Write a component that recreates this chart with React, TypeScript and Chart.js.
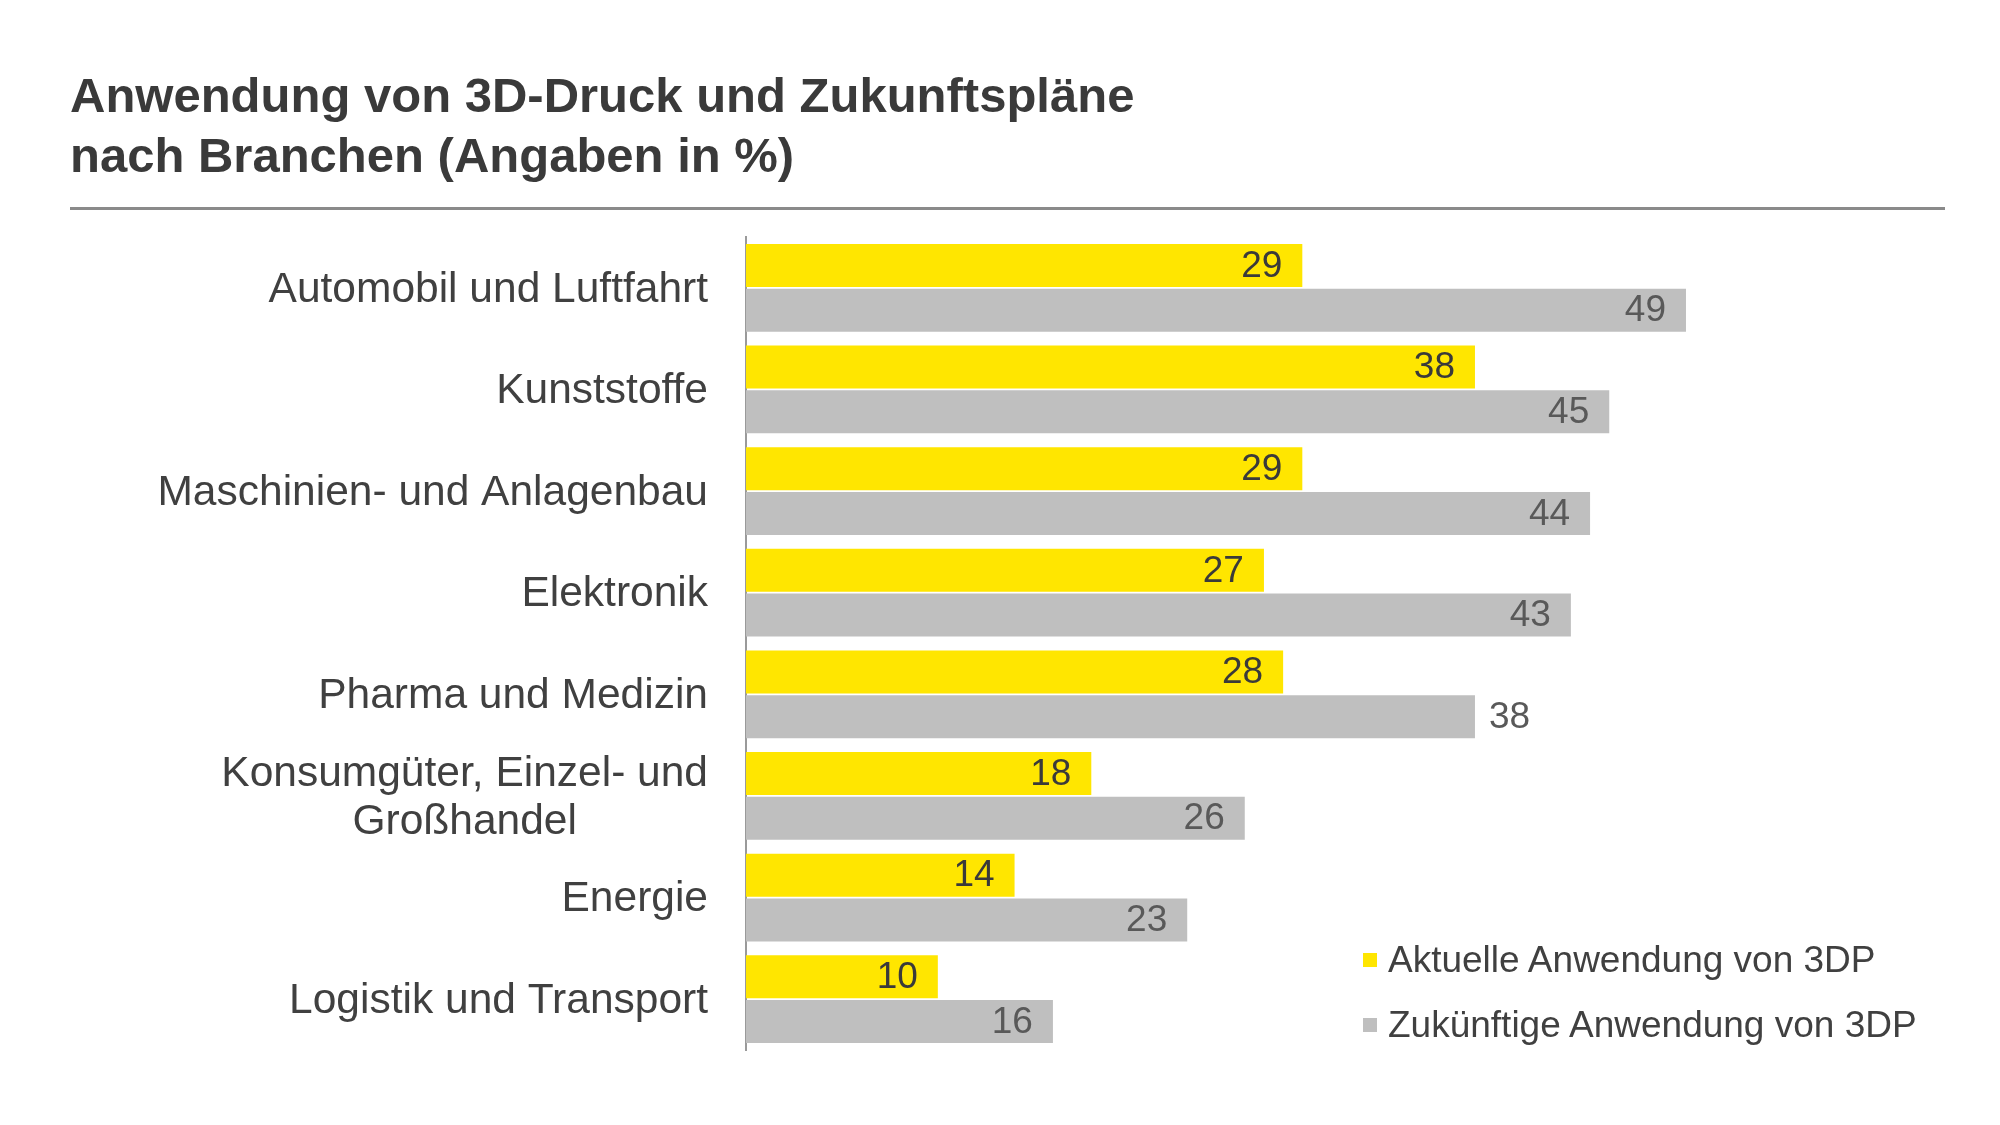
import React, { useEffect, useRef } from "react";
import { Chart, registerables } from "chart.js";

Chart.register(...registerables);

// Branchen (multi-line labels as arrays)
const categories: (string | string[])[] = [
  "Automobil und Luftfahrt",
  "Kunststoffe",
  "Maschinien- und Anlagenbau",
  "Elektronik",
  "Pharma und Medizin",
  ["Konsumgüter, Einzel- und", "Großhandel"],
  "Energie",
  "Logistik und Transport",
];

const seriesNames = ["Aktuelle Anwendung von 3DP", "Zukünftige Anwendung von 3DP"];
const currentUse = [29, 38, 29, 27, 28, 18, 14, 10];
const futureUse = [49, 45, 44, 43, 38, 26, 23, 16];

const TITLE_LINES = ["Anwendung von 3D-Druck und Zukunftspläne", "nach Branchen (Angaben in %)"];

const YELLOW = "#FFE600";
const GREY = "#BFBFBF";
const TEXT = "#404040";
const FONT = "'Liberation Sans', Arial, sans-serif";

// value labels that sit just past the end of their bar: [datasetIndex, index]
const outsideLabels: [number, number][] = [[1, 4]];

const valueLabels = {
  id: "valueLabels",
  afterDatasetsDraw(chart: any) {
    const ctx = chart.ctx;
    ctx.save();
    ctx.font = `37px ${FONT}`;
    ctx.textBaseline = "middle";
    chart.data.datasets.forEach((ds: any, di: number) => {
      const meta = chart.getDatasetMeta(di);
      meta.data.forEach((bar: any, i: number) => {
        const outside = outsideLabels.some(([d, k]) => d === di && k === i);
        ctx.fillStyle = di === 0 ? "#3a3a3a" : "#595959";
        const text = String(ds.data[i]);
        if (outside) {
          ctx.textAlign = "left";
          ctx.fillText(text, bar.x + 14, bar.y + 1);
        } else {
          ctx.textAlign = "right";
          ctx.fillText(text, bar.x - 20, bar.y + 1);
        }
      });
    });
    ctx.restore();
  },
};

const categoryLabels = {
  id: "categoryLabels",
  afterDraw(chart: any) {
    const ctx = chart.ctx;
    const y = chart.scales.y;
    const right = chart.chartArea.left - 38;
    const lineGap = 48;
    ctx.save();
    ctx.font = `42.5px ${FONT}`;
    ctx.fillStyle = TEXT;
    ctx.textBaseline = "middle";
    ctx.textAlign = "center";
    chart.data.labels.forEach((lab: string | string[], i: number) => {
      const lines = Array.isArray(lab) ? lab : [lab];
      const widest = Math.max(...lines.map((l) => ctx.measureText(l).width));
      const cx = right - widest / 2;
      const cy = y.getPixelForTick(i);
      lines.forEach((l, k) => {
        const ly = cy + (k - (lines.length - 1) / 2) * lineGap;
        ctx.fillText(l, cx, ly + 2);
      });
    });
    ctx.restore();
  },
};

export default function App() {
  const canvasRef = useRef<HTMLCanvasElement | null>(null);

  useEffect(() => {
    if (!canvasRef.current) return;
    const chart = new Chart(canvasRef.current, {
      type: "bar",
      data: {
        labels: categories,
        datasets: [
          {
            label: seriesNames[0],
            data: currentUse,
            backgroundColor: YELLOW,
            categoryPercentage: 0.88,
            barPercentage: 0.96,
          },
          {
            label: seriesNames[1],
            data: futureUse,
            backgroundColor: GREY,
            categoryPercentage: 0.88,
            barPercentage: 0.96,
          },
        ],
      },
      options: {
        indexAxis: "y",
        responsive: false,
        animation: false,
        devicePixelRatio: 1,
        layout: { padding: { left: 0, right: 103, top: 237, bottom: 75 } },
        plugins: {
          legend: { display: false },
          tooltip: { enabled: false },
          title: { display: false },
        },
        scales: {
          x: { display: false, min: 0, max: 60 },
          y: {
            type: "category",
            grid: { display: false, drawTicks: false },
            border: { display: true, color: "#9a9a9a", width: 2 },
            ticks: { display: false },
            afterFit(scale: any) {
              scale.width = 746;
            },
          },
        },
      },
      plugins: [valueLabels, categoryLabels],
    });
    return () => chart.destroy();
  }, []);

  return (
    <div
      style={{
        position: "absolute",
        left: 0,
        top: 0,
        width: 2000,
        height: 1125,
        background: "#fff",
        fontFamily: FONT,
        color: TEXT,
      }}
    >
      <div
        style={{
          position: "absolute",
          left: 70,
          top: 65,
          fontSize: 49,
          lineHeight: "60px",
          fontWeight: 700,
          color: "#3a3a3a",
          whiteSpace: "nowrap",
        }}
      >
        {TITLE_LINES.map((t) => (
          <div key={t}>{t}</div>
        ))}
      </div>
      <div
        style={{
          position: "absolute",
          left: 70,
          top: 207,
          width: 1875,
          height: 3,
          background: "#8a8a8a",
        }}
      />
      <canvas
        ref={canvasRef}
        width={2000}
        height={1125}
        style={{ position: "absolute", left: 0, top: 0, width: 2000, height: 1125 }}
      />
      {seriesNames.map((name, i) => (
        <div
          key={name}
          style={{
            position: "absolute",
            left: 1363,
            top: (i === 0 ? 960 : 1025) - 22,
            height: 44,
            display: "flex",
            alignItems: "center",
            fontSize: 37,
            color: TEXT,
            whiteSpace: "nowrap",
          }}
        >
          <span
            style={{
              display: "inline-block",
              width: 14,
              height: 14,
              background: i === 0 ? YELLOW : GREY,
              marginRight: 11,
            }}
          />
          <span>{name}</span>
        </div>
      ))}
    </div>
  );
}
